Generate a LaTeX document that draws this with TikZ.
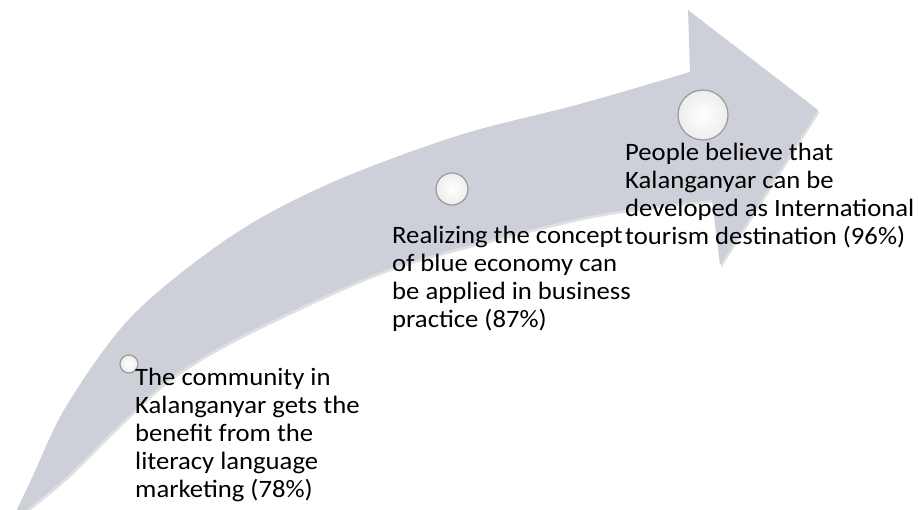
\documentclass[tikz,border=0pt]{standalone}
\usepackage{fontspec}
\setmainfont{Carlito}[FakeStretch=1.067]
\definecolor{arrowgray}{HTML}{CDCFD9}
\definecolor{rimgray}{HTML}{9A9A9A}
\begin{document}
\begin{tikzpicture}[x=1pt,y=-1pt,
  stagetext/.style={anchor=base west, inner sep=0pt,
    font=\fontsize{25}{28}\selectfont, text=black},
  milestone/.style={circle, inner sep=0pt, shading=radial,
    inner color=white, outer color=gray!14, draw=rimgray, line width=1.2pt}]
\useasboundingbox (0,0) rectangle (918,510);
\clip (0,0) rectangle (918,510);

% outline of the curved progress arrow
\def\progressoutline{plot[smooth,tension=0.55] coordinates{(11,522) (31,480) (67,405) (133,315) (233,235) (333,182) (460,135) (580,104) (690,72)}
  -- (688,10) -- (818,110) -- (720,265) -- (712,200)
  -- plot[smooth,tension=0.55] coordinates{(712,200) (600,214) (490,240) (400,265) (333,292) (233,340) (172,377) (123,421) (65,478) (11,522)} -- cycle}

% soft shadow, then the arrow body
\begin{scope}[shift={(1.5,2.5)}]
  \fill[black, opacity=0.12] \progressoutline;
\end{scope}
\fill[arrowgray] \progressoutline;

% milestones along the arrow
\node[milestone, minimum size=18pt] (c1) at (129,364) {};
\node[milestone, minimum size=32pt] (c2) at (452,189) {};
\node[milestone, minimum size=50pt] (c3) at (703,115) {};

% stage descriptions
\node[stagetext] (t1) at (135,385) {\parbox[t]{320pt}{\raggedright
  The community in\\Kalanganyar gets the\\benefit from the\\literacy language\\marketing (78\%)}};
\node[stagetext] (t2) at (392,244) {\parbox[t]{320pt}{\raggedright
  Realizing the concept\\of blue economy can\\be applied in business\\practice (87\%)}};
\node[stagetext] (t3) at (625,161) {\parbox[t]{320pt}{\raggedright
  People believe that\\Kalanganyar can be\\developed as International\\tourism destination (96\%)}};
\end{tikzpicture}
\end{document}
